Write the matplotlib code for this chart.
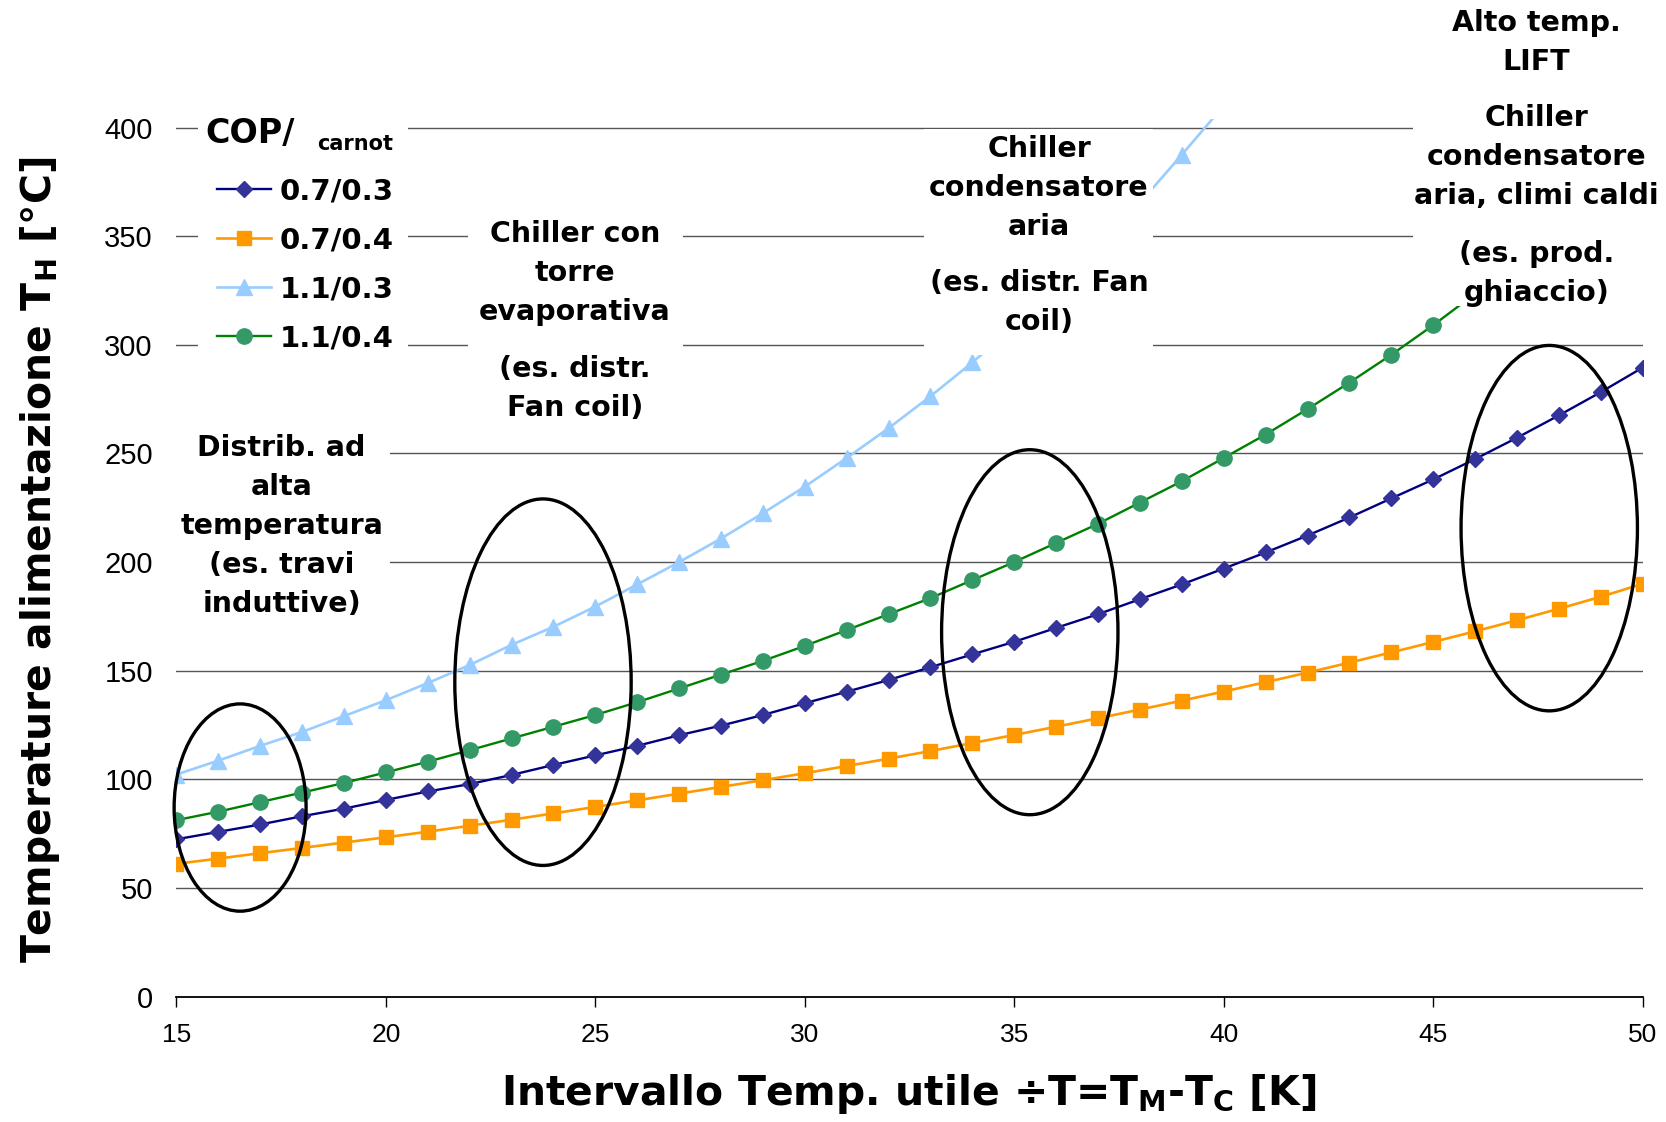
import matplotlib
matplotlib.use('Agg')
import matplotlib.pyplot as plt
from matplotlib.patches import Ellipse, Rectangle

plt.rcParams['mathtext.fontset'] = 'dejavusans'

# ---------------- data ----------------
x_all = list(range(15, 51))
cop07_03 = [72.4, 75.8, 79.2, 83.0, 86.5, 90.5, 94.4, 97.8, 102.0, 106.6, 111.0, 115.4,
            120.3, 124.7, 129.6, 135.0, 140.3, 145.7, 151.6, 157.5, 163.3, 169.7, 176.0,
            182.9, 189.7, 197.0, 204.4, 212.2, 220.5, 229.3, 238.0, 247.4, 257.2, 267.5,
            278.2, 289.5]
cop07_04 = [61.1, 63.5, 66.0, 68.4, 70.9, 73.3, 75.9, 78.6, 81.4, 84.3, 87.3, 90.3,
            93.4, 96.5, 99.6, 102.8, 106.1, 109.5, 113.0, 116.7, 120.4, 124.2, 128.1,
            132.1, 136.2, 140.4, 144.7, 149.1, 153.7, 158.4, 163.2, 168.1, 173.2, 178.5,
            184.0, 190.0]
x_11_03 = list(range(15, 41))
cop11_03 = [102.2, 108.6, 115.4, 121.8, 129.1, 136.4, 144.3, 152.6, 161.9, 170.2, 179.5,
            189.7, 200.0, 210.8, 222.5, 234.7, 247.9, 261.6, 276.3, 291.9, 308.5, 326.2,
            345.1, 365.3, 387.5, 410.0]
x_11_04 = list(range(15, 47))
cop11_04 = [81.2, 85.1, 89.5, 93.9, 98.3, 103.2, 108.1, 113.4, 118.8, 124.2, 129.6, 135.5,
            141.8, 148.2, 154.5, 161.4, 168.7, 176.0, 183.4, 191.7, 200.0, 208.8, 217.6,
            227.4, 237.2, 247.9, 258.7, 270.4, 282.6, 295.4, 309.0, 323.5]
series_labels = ['0.7/0.3', '0.7/0.4', '1.1/0.3', '1.1/0.4']
x_ticks = [15, 20, 25, 30, 35, 40, 45, 50]
y_ticks = [0, 50, 100, 150, 200, 250, 300, 350, 400]

ylabel_txt = 'Temperature alimentazione T$_\\mathbf{H}$ [°C]'
xlabel_txt = 'Intervallo Temp. utile ÷T=T$_\\mathbf{M}$-T$_\\mathbf{C}$ [K]'

box1_txt = 'Distrib. ad\nalta\ntemperatura\n(es. travi\ninduttive)'
box2a_txt = 'Chiller con\ntorre\nevaporativa'
box2b_txt = '(es. distr.\nFan coil)'
box3a_txt = 'Chiller\ncondensatore\naria'
box3b_txt = '(es. distr. Fan\ncoil)'
box4a_txt = 'Alto temp.\nLIFT'
box4b_txt = 'Chiller\ncondensatore\naria, climi caldi'
box4c_txt = '(es. prod.\nghiaccio)'

# ---------------- figure ----------------
fig = plt.figure(figsize=(16.66, 11.22), dpi=100)
ax = fig.add_axes([0.1059, 0.1118, 0.8801, 0.7823])
ax.set_xlim(15, 50)
ax.set_ylim(0, 404)

for s in ['left', 'right', 'top']:
    ax.spines[s].set_visible(False)
ax.spines['bottom'].set_color('black')
ax.spines['bottom'].set_linewidth(1.3)
ax.spines['bottom'].set_zorder(2.5)

ax.set_yticks(y_ticks)
ax.set_xticks(x_ticks)
ax.yaxis.grid(True, color='#555555', lw=1.0)
ax.set_axisbelow(True)

ax.tick_params(axis='y', length=0, pad=17, labelsize=21)
ax.tick_params(axis='x', length=7, width=1, direction='out', pad=12, labelsize=19)
for lbl in ax.get_yticklabels():
    lbl.set_fontfamily(['Liberation Sans', 'DejaVu Sans'])
for lbl in ax.get_xticklabels():
    lbl.set_fontfamily(['Liberation Sans Narrow', 'Liberation Sans', 'DejaVu Sans'])

h1, = ax.plot(x_all, cop07_03, color='#000080', lw=1.7, marker='D', ms=8.5,
              mfc='#333399', mec='#333399', zorder=3, label=series_labels[0])
h2, = ax.plot(x_all, cop07_04, color='#FF9900', lw=1.9, marker='s', ms=10,
              mfc='#FF9900', mec='#FF9900', zorder=3, label=series_labels[1])
h3, = ax.plot(x_11_03, cop11_03, color='#99CCFF', lw=1.9, marker='^', ms=11,
              mfc='#99CCFF', mec='#99CCFF', zorder=3, label=series_labels[2])
h4, = ax.plot(x_11_04, cop11_04, color='#008000', lw=1.7, marker='o', ms=11,
              mfc='#339966', mec='#339966', zorder=3, label=series_labels[3])

# white backgrounds of the annotation boxes (they hide grid and lines)
rects = [(15.52, 290.7, 5.01, 115.0),   # legend
         (15.0, 172.6, 5.10, 88.0),     # box 1
         (21.95, 263.0, 5.15, 98.0),    # box 2
         (32.85, 295.4, 5.46, 104.0),   # box 3
         (44.52, 317.8, 5.90, 140.0)]   # box 4
for (rx, ry, rw, rh) in rects:
    ax.add_patch(Rectangle((rx, ry), rw, rh, facecolor='white', edgecolor='none',
                           zorder=4, clip_on=False))

leg = ax.legend(handles=[h1, h2, h3, h4], loc='upper left', bbox_to_anchor=(0.0275, 0.933),
                frameon=False, prop={'weight': 'bold', 'size': 21}, handlelength=1.85,
                handletextpad=0.3, labelspacing=0.72, borderpad=0, borderaxespad=0)
leg.set_zorder(7)

ax.text(15.68, 392.9, 'COP/', fontsize=24, fontweight='bold', ha='left', va='baseline', zorder=7)
ax.text(18.36, 389.6, 'carnot', fontsize=15, fontweight='bold', ha='left', va='baseline', zorder=7)

tkw = dict(ha='center', va='center', fontsize=20.5, fontweight='bold', linespacing=1.5,
           zorder=5, clip_on=False)
ax.text(17.51, 216.6, box1_txt, **tkw)
ax.text(24.51, 333.0, box2a_txt, **tkw)
ax.text(24.51, 279.7, box2b_txt, **tkw)
ax.text(35.59, 372.1, box3a_txt, **tkw)
ax.text(35.59, 319.3, box3b_txt, **tkw)
ax.text(47.46, 439.1, box4a_txt, **tkw)
ax.text(47.46, 386.3, box4b_txt, **tkw)
ax.text(47.46, 333.0, box4c_txt, **tkw)

ellipses = [(16.52, 87.0, 3.15, 95.4),
            (23.75, 144.7, 4.21, 168.7),
            (35.37, 167.7, 4.21, 168.0),
            (47.77, 215.6, 4.21, 168.2)]
for (ex, ey, ew, eh) in ellipses:
    ax.add_patch(Ellipse((ex, ey), ew, eh, facecolor='none', edgecolor='black',
                         lw=2.4, zorder=6, clip_on=False))

fig.text(40 / 1666, 1 - 560 / 1122, ylabel_txt, rotation=90, ha='center', va='center',
         fontsize=29.4, fontweight='bold')
fig.text(909 / 1666, 1 - 1094 / 1122, xlabel_txt, ha='center', va='center',
         fontsize=29.4, fontweight='bold')

fig.savefig('out.png', dpi=100)
